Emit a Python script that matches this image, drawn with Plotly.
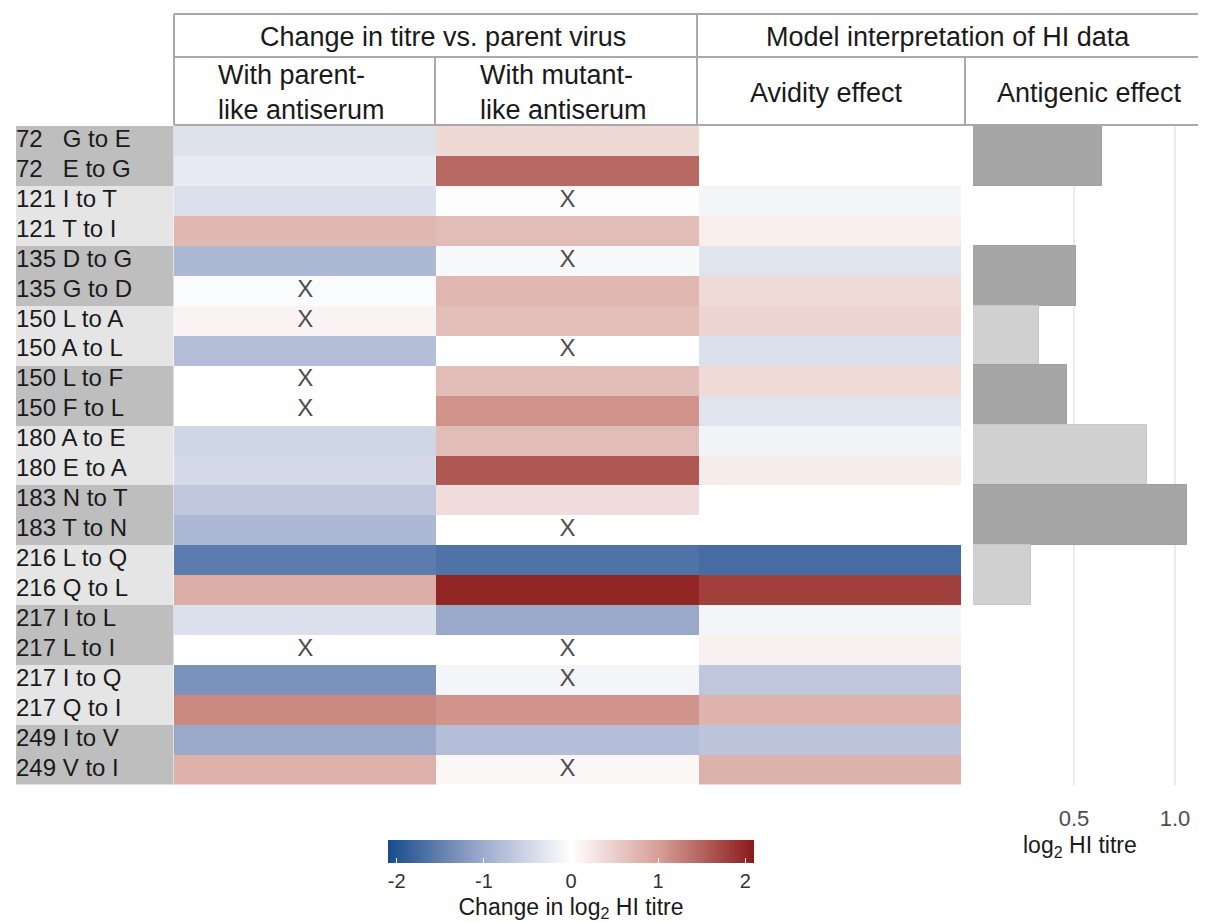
import plotly.graph_objects as go

# ---------------- data ----------------
row_labels = ["72\u2007 G to E", "72\u2007 E to G", "121 I to T", "121 T to I",
              "135 D to G", "135 G to D", "150 L to A", "150 A to L",
              "150 L to F", "150 F to L", "180 A to E", "180 E to A",
              "183 N to T", "183 T to N", "216 L to Q", "216 Q to L",
              "217 I to L", "217 L to I", "217 I to Q", "217 Q to I",
              "249 I to V", "249 V to I"]

# change in log2 HI titre
parent_like = [-0.35, -0.25, -0.38, 0.75, -0.85, -0.05, 0.12, -0.78, 0.0, 0.0, -0.5,
               -0.45, -0.68, -0.85, -1.55, 0.85, -0.38, 0.0, -1.3, 1.2, -1.05, 0.82]
mutant_like = [0.4, 1.45, 0.02, 0.7, -0.07, 0.75, 0.67, 0.0, 0.7, 1.1, 0.7,
               1.6, 0.36, 0.0, -1.65, 2.0, -1.05, 0.0, -0.12, 1.1, -0.78, 0.08]
avidity = [None, None, -0.12, 0.17, -0.33, 0.38, 0.45, -0.38, 0.38, -0.32, -0.13,
           0.2, None, None, -1.72, 1.8, -0.12, 0.15, -0.68, 0.78, -0.7, 0.8]

# "X" flags
parent_x = [0, 0, 0, 0, 0, 1, 1, 0, 1, 1, 0, 0, 0, 0, 0, 0, 0, 1, 0, 0, 0, 0]
mutant_x = [0, 0, 1, 0, 1, 0, 0, 1, 0, 0, 0, 0, 0, 1, 0, 0, 0, 1, 1, 0, 0, 1]

# mutation pairs (groups of two rows) and antigenic effect
group_of_row = [0, 0, 1, 1, 2, 2, 3, 3, 4, 4, 5, 5, 6, 6, 7, 7, 8, 8, 9, 9, 10, 10]
antigenic = [0.64, None, 0.51, 0.327, 0.465, 0.861, 1.06, 0.287, None, None, None]

col_headers = ["With parent-<br>like antiserum", "With mutant-<br>like antiserum",
               "Avidity effect", "Antigenic effect"]
top_headers = ["Change in titre vs. parent virus", "Model interpretation of HI data"]
bar_ticks = [0.5, 1.0]
bar_ticktext = ["0.5", "1.0"]
cbar_ticks = [-2, -1, 0, 1, 2]
cbar_ticktext = ["-2", "-1", "0", "1", "2"]

# ---------------- layout helpers ----------------
# the page body has an 8px margin, so the figure starts at (8, 8)
OFF = 8
W, H = 1206 - 2 * OFF, 923 - OFF
FONT = "Liberation Sans, Arial, Helvetica, sans-serif"
def px(x): return (x - OFF) / W
def py(y): return 1 - (y - OFF) / H

n = len(row_labels)
rows = list(range(n))
ydom = [py(784.5), py(126)]
yrange = [n - 0.5, -0.5]

dark_bg, light_bg = "#bebebe", "#e5e5e5"
dark_bar, light_bar = "#a6a6a6", "#d0d0d0"

colorscale = [[0.0, "#164b8b"], [0.25, "#9aa8ca"], [0.5, "#ffffff"],
              [0.75, "#d49a92"], [1.0, "#8b1a1a"]]

fig = go.Figure()

# label panel background
shade = [1 - (g % 2) for g in group_of_row]
fig.add_trace(go.Heatmap(z=[[s] for s in shade], x=[0.5], y=rows,
                         colorscale=[[0, light_bg], [1, dark_bg]], zmin=0, zmax=1,
                         showscale=False, hoverinfo="skip", xaxis="x", yaxis="y"))
fig.add_trace(go.Scatter(x=[0] * n, y=rows, mode="text", text=row_labels,
                         textposition="middle right",
                         textfont=dict(family=FONT, size=24, color="#1a1a1a"),
                         hoverinfo="skip", showlegend=False, xaxis="x", yaxis="y"))

# main heatmap
z = [[parent_like[i], mutant_like[i], avidity[i]] for i in rows]
fig.add_trace(go.Heatmap(
    z=z, x=[0, 1, 2], y=rows, colorscale=colorscale, zmin=-2.1, zmax=2.1,
    hoverinfo="skip", xaxis="x2", yaxis="y2",
    colorbar=dict(orientation="h", x=px(571), xanchor="center", y=py(840), yanchor="top",
                  thickness=23, thicknessmode="pixels", len=366, lenmode="pixels",
                  xpad=0, ypad=0, outlinewidth=0, tickvals=cbar_ticks, ticktext=cbar_ticktext,
                  ticks="inside", tickcolor="white", ticklen=5,
                  tickfont=dict(family=FONT, size=20, color="#333333"),
                  title=dict(text="Change in log<sub>2</sub> HI titre", side="bottom",
                             font=dict(family=FONT, size=23, color="#1a1a1a")))))

xs_x, xs_y = [], []
for i in rows:
    if parent_x[i]:
        xs_x.append(0); xs_y.append(i)
    if mutant_x[i]:
        xs_x.append(1); xs_y.append(i)
fig.add_trace(go.Scatter(x=xs_x, y=xs_y, mode="text", text=["X"] * len(xs_x),
                         textfont=dict(family=FONT, size=24, color="#4d4d4d"),
                         hoverinfo="skip", showlegend=False, xaxis="x2", yaxis="y2"))

# antigenic effect bars
for g in range(len(antigenic)):
    if antigenic[g] is None:
        continue
    members = [i for i in rows if group_of_row[i] == g]
    fig.add_trace(go.Bar(x=[antigenic[g]], y=[sum(members) / len(members)],
                         width=[len(members)], orientation="h",
                         marker=dict(color=dark_bar if g % 2 == 0 else light_bar,
                                     line=dict(width=1, color="#9f9f9f" if g % 2 == 0 else "#c8c8c8")),
                         hoverinfo="skip", showlegend=False, xaxis="x3", yaxis="y3"))

# bar axis: value 0 at x=973px, 202px per unit, panel ends at figure edge
bar_xmax = (OFF + W - 973) / 202.0

hidden = dict(visible=False, showgrid=False, zeroline=False, fixedrange=True)
fig.update_layout(
    width=W, height=H, margin=dict(l=0, r=0, t=0, b=0),
    paper_bgcolor="white", plot_bgcolor="rgba(0,0,0,0)", showlegend=False,
    font=dict(family=FONT, color="#1a1a1a"),
    xaxis=dict(domain=[px(16), px(173.5)], range=[0, 1], **hidden),
    yaxis=dict(domain=ydom, range=yrange, **hidden),
    xaxis2=dict(domain=[px(174), px(961)], range=[-0.5, 2.5], **hidden),
    yaxis2=dict(domain=ydom, range=yrange, anchor="x2", **hidden),
    xaxis3=dict(domain=[px(973), 1], range=[0, bar_xmax], anchor="y3",
                showgrid=True, gridcolor="#ebebeb", gridwidth=2, zeroline=False,
                tickvals=bar_ticks, ticktext=bar_ticktext, ticks="",
                ticklabelstandoff=18, showline=False,
                tickfont=dict(family=FONT, size=22, color="#4d4d4d")),
    yaxis3=dict(domain=ydom, range=yrange, anchor="x3", **hidden),
    bargap=0,
)

# header table lines
line = dict(color="#a9a9a9", width=2)
RIGHT = OFF + W
segs = [(174, 14, RIGHT, 14), (174, 57, RIGHT, 57), (174, 125, RIGHT, 125),
        (174, 14, 174, 125), (697, 14, 697, 125), (435, 57, 435, 125), (965, 57, 965, 125)]
for x0, y0, x1, y1 in segs:
    fig.add_shape(type="line", xref="paper", yref="paper", x0=px(x0), y0=py(y0),
                  x1=px(x1), y1=py(y1), line=line)

hdr_font = dict(family=FONT, size=27, color="#1a1a1a")
ann = dict(xref="paper", yref="paper", showarrow=False, xanchor="center", yanchor="middle")
fig.add_annotation(x=px(443), y=py(37), text=top_headers[0], font=hdr_font, **ann)
fig.add_annotation(x=px(948), y=py(37), text=top_headers[1], font=hdr_font, **ann)
for cx, txt in zip([301, 563, 826, 1089], col_headers):
    fig.add_annotation(x=px(cx), y=py(93), text=txt, font=hdr_font, align="left", **ann)

fig.add_annotation(x=px(1080), y=py(846), text="log<sub>2</sub> HI titre",
                   font=dict(family=FONT, size=23, color="#1a1a1a"), **ann)

fig.write_html("out.html")
